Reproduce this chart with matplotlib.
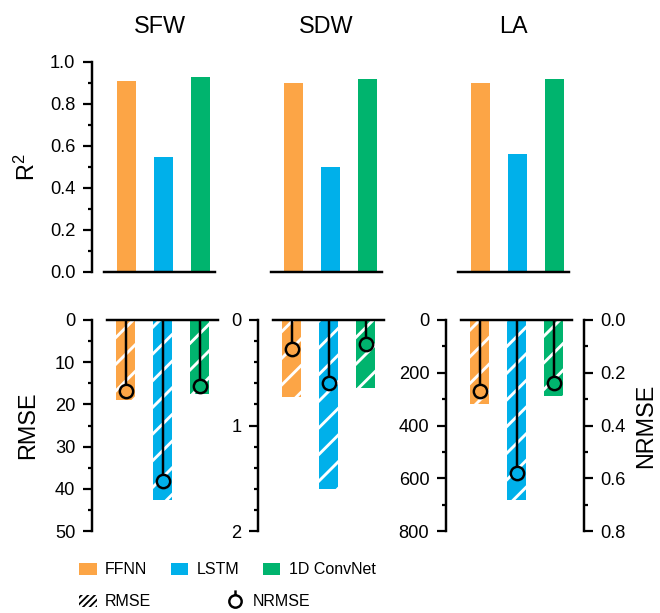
import numpy as np
import matplotlib
matplotlib.use("Agg")
import matplotlib.pyplot as plt
from matplotlib.lines import Line2D
from matplotlib.patches import Patch
from matplotlib.path import Path
from matplotlib.ticker import MultipleLocator

plt.rcParams['font.family'] = ['Liberation Sans', 'DejaVu Sans']
plt.rcParams['mathtext.fontset'] = 'custom'
plt.rcParams['mathtext.rm'] = 'Liberation Sans'
plt.rcParams['hatch.linewidth'] = 1.3

#Data
targets = ['SFW', 'SDW', 'LA']
models = ['FFNN', 'LSTM', '1D ConvNet']
colors = ['#FCA546', '#00B0EA', '#00B46E']

r2_sfw = [0.91, 0.55, 0.93]
r2_sdw = [0.90, 0.50, 0.92]
r2_la = [0.90, 0.56, 0.92]

rmse_sfw = [19.0, 42.7, 17.5]
rmse_sdw = [0.73, 1.60, 0.64]
rmse_la = [317, 682, 287]

nrmse_sfw = [0.27, 0.61, 0.25]
nrmse_sdw = [0.11, 0.24, 0.09]
nrmse_la = [0.27, 0.58, 0.24]

r2_all = [r2_sfw, r2_sdw, r2_la]
rmse_all = [rmse_sfw, rmse_sdw, rmse_la]
nrmse_all = [nrmse_sfw, nrmse_sdw, nrmse_la]

#Axis settings for the RMSE panels
rmse_max = [50, 2, 800]
rmse_major = [10, 1, 200]
rmse_minor = [5, 0.2, 100]

W, H, DPI = 660, 613, 160
fig = plt.figure(figsize=(W / DPI, H / DPI), dpi=DPI)

top_left = [104, 271, 458]
bot_left = [107, 273, 461]
x = np.arange(len(models))
small = 8.2
leg_size = 7.2
big = 10.5

for i, name in enumerate(targets):
    #R2 panel
    ax = fig.add_axes([top_left[i] / W, 1 - 272 / H, 111 / W, 210 / H])
    ax.bar(x, r2_all[i], width=0.52, color=colors)
    ax.set_xlim(-0.6, 2.4)
    ax.set_ylim(0, 1)
    ax.set_title(name, fontsize=big, pad=13)
    ax.spines['top'].set_visible(False)
    ax.spines['right'].set_visible(False)
    ax.spines['bottom'].set_linewidth(1.1)
    ax.tick_params(axis='x', bottom=False, labelbottom=False)
    if i == 0:
        ax.spines['left'].set_position(('outward', 5.4))
        ax.spines['left'].set_linewidth(1.1)
        ax.yaxis.set_major_locator(MultipleLocator(0.2))
        ax.yaxis.set_minor_locator(MultipleLocator(0.1))
        ax.tick_params(axis='y', which='major', length=4, width=1.0, labelsize=small, pad=3.5)
        ax.tick_params(axis='y', which='minor', length=2, width=1.0)
        ax.set_ylabel('$\\mathregular{R^2}$', fontsize=big, labelpad=4.5)
    else:
        ax.spines['left'].set_visible(False)
        ax.tick_params(axis='y', left=False, labelleft=False, which='both')

    #RMSE / NRMSE panel
    bx = fig.add_axes([bot_left[i] / W, 1 - 531 / H, 111 / W, 211 / H])
    bx.bar(x, rmse_all[i], width=0.52, color=colors, hatch='//', edgecolor='white', linewidth=0)
    bx.set_xlim(-0.5, 2.5)
    bx.set_ylim(rmse_max[i], 0)
    bx.spines['bottom'].set_visible(False)
    bx.spines['right'].set_visible(False)
    bx.spines['top'].set_linewidth(1.1)
    bx.spines['left'].set_position(('outward', 6.75))
    bx.spines['left'].set_linewidth(1.1)
    bx.tick_params(axis='x', top=False, bottom=False, labelbottom=False)
    bx.yaxis.set_major_locator(MultipleLocator(rmse_major[i]))
    bx.yaxis.set_minor_locator(MultipleLocator(rmse_minor[i]))
    bx.tick_params(axis='y', which='major', length=4, width=1.0, labelsize=small, pad=3.5)
    bx.tick_params(axis='y', which='minor', length=2, width=1.0)
    if i == 0:
        bx.set_ylabel('RMSE', fontsize=big, labelpad=7)

    tw = bx.twinx()
    tw.set_ylim(0.8, 0)
    tw.vlines(x, 0, nrmse_all[i], color='black', linewidth=1.1, zorder=2)
    for j in range(len(models)):
        tw.plot(x[j], nrmse_all[i][j], 'o', ms=6, mfc=colors[j], mec='black', mew=1.1, zorder=3)
    for s in ['top', 'bottom', 'left']:
        tw.spines[s].set_visible(False)
    if i == 2:
        tw.spines['right'].set_position(('outward', 5.4))
        tw.spines['right'].set_linewidth(1.1)
        tw.yaxis.set_major_locator(MultipleLocator(0.2))
        tw.yaxis.set_minor_locator(MultipleLocator(0.1))
        tw.tick_params(axis='y', which='major', length=4, width=1.0, labelsize=small, pad=3.5)
        tw.tick_params(axis='y', which='minor', length=2, width=1.0)
        tw.set_ylabel('NRMSE', fontsize=big, labelpad=3.5)
    else:
        tw.spines['right'].set_visible(False)
        tw.tick_params(axis='y', which='both', right=False, labelright=False)

#Legends
model_handles = [Patch(facecolor=c, edgecolor='none') for c in colors]
fig.legend(model_handles, models, loc='center left', bbox_to_anchor=(79 / W, 1 - 570 / H),
           ncol=3, frameon=False, fontsize=leg_size, handlelength=1.1, handleheight=0.75,
           handletextpad=0.54, columnspacing=1.45, borderpad=0, borderaxespad=0)

lolly = Path.make_compound_path(Path.unit_circle(), Path([[0, 1], [0, 1.8]]))
metric_handles = [Patch(facecolor='black', edgecolor='white', hatch='////////', linewidth=0),
                  Line2D([], [], ls='none', marker=lolly, ms=10, mfc='none', mec='black', mew=1.1)]
fig.legend(metric_handles, ['RMSE', 'NRMSE'], loc='center left', bbox_to_anchor=(79 / W, 1 - 602 / H),
           ncol=2, frameon=False, fontsize=leg_size, handlelength=1.1, handleheight=0.75,
           handletextpad=0.54, columnspacing=4.7, borderpad=0, borderaxespad=0)

fig.savefig('out.png', dpi=DPI)
